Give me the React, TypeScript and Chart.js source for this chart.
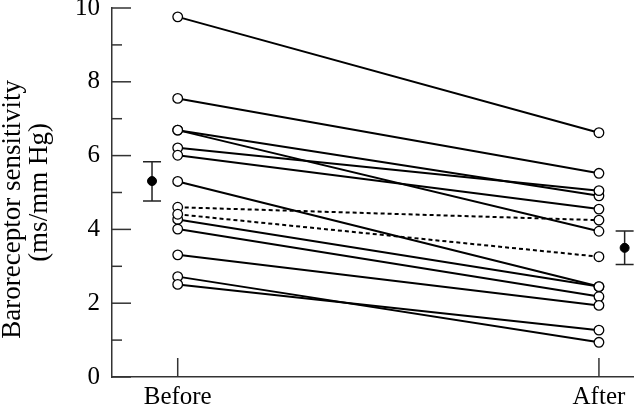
import React, { useEffect, useRef } from "react";
import { Chart, registerables } from "chart.js";

Chart.register(...registerables);

// ---- data ----
const groupLabels = ["Before", "After"];
const yTickValues = [0, 2, 4, 6, 8, 10];
const beforeSolid = [9.76, 7.55, 6.69, 6.69, 6.21, 6.01, 5.3, 4.27, 4.01, 3.31, 2.72, 2.51];
const afterSolid = [6.62, 5.52, 4.91, 3.95, 5.05, 4.55, 2.45, 2.45, 2.18, 1.94, 0.94, 1.27];
const beforeDashed = [4.6, 4.41];
const afterDashed = [4.25, 3.26];
const meanValues = [5.31, 3.5];
const errLow = [4.77, 3.05];
const errHigh = [5.83, 3.96];
const yTitleLines = ["Baroreceptor sensitivity", "(ms/mm Hg)"];

// ---- layout constants ----
const MEAN_OFFSET = 0.061; // horizontal offset of mean markers (in group units)
const FONT = "'Liberation Serif', 'Times New Roman', serif";
const AXIS_COLOR = "#333";

const meanX = (i: number) => (i === 0 ? 0 - MEAN_OFFSET : 1 + MEAN_OFFSET);

const decorPlugin = {
  id: "decor",
  beforeDatasetsDraw(chart: any) {
    const { ctx, scales } = chart;
    const xs = scales.x;
    const ys = scales.y;
    ctx.save();
    ctx.strokeStyle = "#222";
    ctx.lineWidth = 1.5;
    meanValues.forEach((_, i) => {
      const px = xs.getPixelForValue(meanX(i));
      const top = ys.getPixelForValue(errHigh[i]);
      const bot = ys.getPixelForValue(errLow[i]);
      ctx.beginPath();
      ctx.moveTo(px, top);
      ctx.lineTo(px, bot);
      ctx.moveTo(px - 9, top);
      ctx.lineTo(px + 9, top);
      ctx.moveTo(px - 9, bot);
      ctx.lineTo(px + 9, bot);
      ctx.stroke();
    });
    ctx.restore();
  },
  afterDraw(chart: any) {
    const { ctx, scales, chartArea } = chart;
    const xs = scales.x;
    const ys = scales.y;
    ctx.save();
    ctx.strokeStyle = AXIS_COLOR;
    ctx.lineWidth = 1.5;
    for (let v = 0; v <= 10; v++) {
      const py = ys.getPixelForValue(v);
      const len = v % 2 === 0 ? 19 : 10;
      ctx.beginPath();
      ctx.moveTo(chartArea.left, py);
      ctx.lineTo(chartArea.left + len, py);
      ctx.stroke();
    }
    groupLabels.forEach((_, i) => {
      const px = xs.getPixelForValue(i);
      ctx.beginPath();
      ctx.moveTo(px, chartArea.bottom);
      ctx.lineTo(px, chartArea.bottom - 19);
      ctx.stroke();
    });
    ctx.restore();
  },
};

export default function App() {
  const ref = useRef<HTMLCanvasElement | null>(null);

  useEffect(() => {
    if (!ref.current) return;

    const lineDs = (b: number, a: number, dashed: boolean) => ({
      type: "line" as const,
      data: [
        { x: 0, y: b },
        { x: 1, y: a },
      ],
      borderColor: "#000",
      borderWidth: 2,
      borderDash: dashed ? [4, 3] : [],
      pointRadius: 0,
      fill: false,
      order: 3,
    });

    const datasets: any[] = [];
    beforeSolid.forEach((b, i) => datasets.push(lineDs(b, afterSolid[i], false)));
    beforeDashed.forEach((b, i) => datasets.push(lineDs(b, afterDashed[i], true)));

    const allPoints: { x: number; y: number }[] = [];
    [...beforeSolid, ...beforeDashed].forEach((v) => allPoints.push({ x: 0, y: v }));
    [...afterSolid, ...afterDashed].forEach((v) => allPoints.push({ x: 1, y: v }));
    datasets.push({
      type: "scatter",
      data: allPoints,
      pointRadius: 4.8,
      pointBackgroundColor: "#fff",
      pointBorderColor: "#000",
      pointBorderWidth: 1.3,
      showLine: false,
      order: 1,
    });
    datasets.push({
      type: "scatter",
      data: meanValues.map((m, i) => ({ x: meanX(i), y: m })),
      pointRadius: 4.5,
      pointBackgroundColor: "#000",
      pointBorderColor: "#000",
      pointBorderWidth: 1,
      showLine: false,
      order: 0,
    });

    const chart = new Chart(ref.current, {
      type: "scatter",
      data: { datasets },
      plugins: [decorPlugin],
      options: {
        animation: false,
        responsive: true,
        maintainAspectRatio: false,
        layout: { padding: 0 },
        plugins: {
          legend: { display: false },
          tooltip: { enabled: false },
        },
        scales: {
          x: {
            type: "linear",
            min: -0.156,
            max: 1.083,
            grid: { display: false, drawTicks: false },
            border: { display: true, color: AXIS_COLOR, width: 1.5 },
            afterBuildTicks: (scale: any) => {
              scale.ticks = groupLabels.map((_, i) => ({ value: i }));
            },
            afterFit: (scale: any) => {
              scale.height = 28;
              scale.paddingLeft = 0;
              scale.paddingRight = 0;
            },
            ticks: {
              autoSkip: false,
              maxRotation: 0,
              padding: 8,
              color: "#000",
              font: { family: FONT, size: 25, lineHeight: 1 },
              callback: (v: any) => groupLabels[Number(v)] ?? "",
            },
          },
          y: {
            type: "linear",
            min: 0,
            max: 10,
            grid: { display: false, drawTicks: false },
            border: { display: true, color: AXIS_COLOR, width: 1.5 },
            afterBuildTicks: (scale: any) => {
              scale.ticks = yTickValues.map((v) => ({ value: v }));
            },
            afterFit: (scale: any) => {
              scale.width = 112;
              scale.paddingTop = 8;
              scale.paddingBottom = 0;
            },
            ticks: {
              padding: 12,
              color: "#000",
              font: { family: FONT, size: 25 },
            },
            title: {
              display: true,
              text: [yTitleLines[0] + "\u0020\u0020\u0020\u0020\u0020", yTitleLines[1]],
              color: "#000",
              font: { family: FONT, size: 27, lineHeight: 1.02 },
              padding: { top: -1, bottom: 0 },
            },
          },
        },
      },
    });
    return () => chart.destroy();
  }, []);

  return (
    <div style={{ position: "absolute", left: 0, top: 0, width: 640, height: 405, background: "#fff" }}>
      <canvas ref={ref} />
    </div>
  );
}
